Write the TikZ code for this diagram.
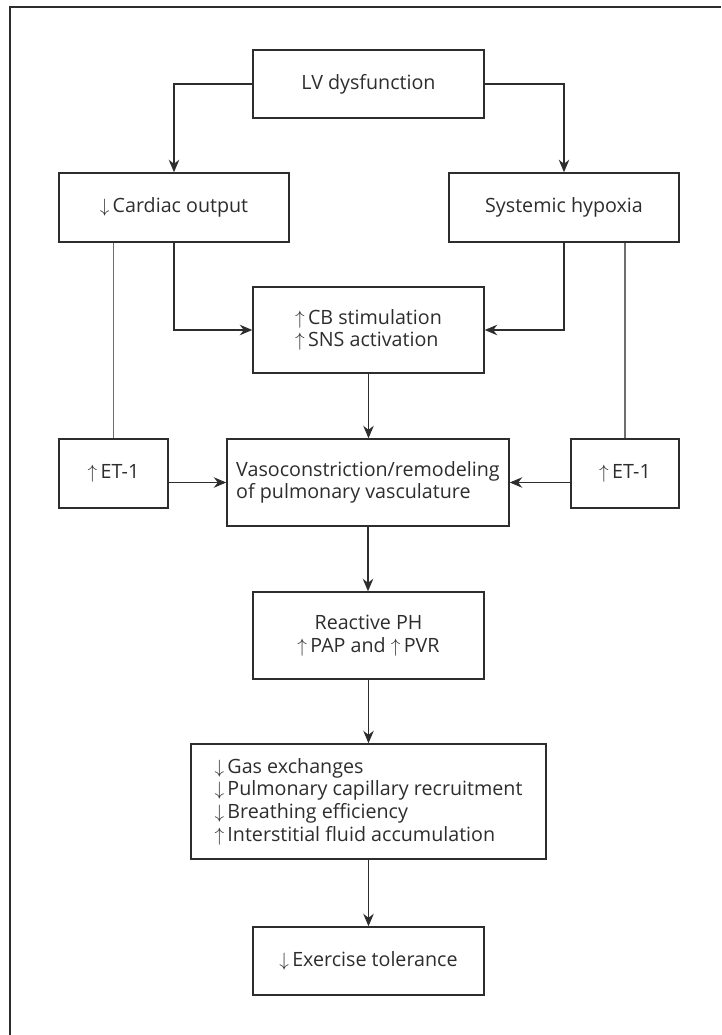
\documentclass[tikz,border=0pt]{standalone}
\usepackage{fontspec}
\setmainfont{Open Sans}
\usepackage{tikz}
\usetikzlibrary{positioning, arrows.meta, calc}
\definecolor{inkgrey}{RGB}{45, 45, 45}
\definecolor{wiregrey}{RGB}{110, 110, 110}
\newcommand{\arUp}{$\uparrow$\,}
\newcommand{\arDn}{$\downarrow$\,}

\begin{document}
\begin{tikzpicture}[>={Stealth[length=2.5mm, width=2.1mm]}, font=\fontsize{11.2}{12.9}\selectfont,
      blk/.style={draw=inkgrey, line width=0.85pt, text=inkgrey, align=center, inner sep=2pt,
        minimum width=4.62cm, minimum height=1.36cm},
      arr/.style={->, inkgrey, line width=0.6pt},
      wire/.style={wiregrey, line width=0.6pt}]
    \useasboundingbox (0,0) rectangle (14.42,-20.70);
    \draw[inkgrey, line width=0.7pt] (0.2,-20.70) -- (0.2,-0.14) -- (14.42,-0.14);
    \node[blk] (lv)  at (7.37,-1.68)  {LV dysfunction};
    \node[blk, minimum width=4.6cm, minimum height=1.38cm] (co) at (3.48,-4.15)  {\arDn Cardiac output};
    \node[blk, minimum width=4.6cm, minimum height=1.38cm] (hy) at (11.28,-4.15) {Systemic hypoxia};
    \node[blk, align=left, minimum height=1.72cm] (cb) at (7.37,-6.6) {\arUp CB stimulation\\ \arUp SNS activation};
    \node[blk, align=left, minimum width=5.64cm, minimum height=1.74cm] (vc) at (7.36,-9.65)
      {Vasoconstriction/remodeling\\ of pulmonary vasculature};
    \node[blk, minimum width=2.18cm, minimum height=1.38cm] (etl) at (2.27,-9.47) {\arUp ET-1};
    \node[blk, minimum width=2.16cm, minimum height=1.38cm] (etr) at (12.5,-9.47) {\arUp ET-1};
    \node[blk, minimum height=1.74cm] (ph) at (7.37,-12.71) {Reactive PH\\ \arUp PAP and \arUp PVR};
    \node[blk, align=left, minimum width=7.1cm, minimum height=2.3cm] (gx) at (7.37,-16.03)
      {\arDn Gas exchanges\\ \arDn Pulmonary capillary recruitment\\ \arDn Breathing efficiency\\ \arUp Interstitial fluid accumulation};
    \node[blk] (ex) at (7.37,-19.22) {\arDn Exercise tolerance};
    % LV dysfunction splits in two
    \draw[arr] (lv.west) -| (co.north);
    \draw[arr] (lv.east) -| (hy.north);
    \draw[arr] (co.south) |- (cb.west);
    \draw[arr] (hy.south) |- (cb.east);
    \draw[wire] (etl.north |- co.south) -- (etl.north);
    \draw[wire] (etr.north |- hy.south) -- (etr.north);
    \draw[arr] (etl.east |- vc.west) -- (vc.west);
    \draw[arr] (etr.west |- vc.east) -- (vc.east);
    \foreach \a/\b in {cb/vc, vc/ph, ph/gx, gx/ex} \draw[arr] (\a.south) -- (\a.south |- \b.north);
  \end{tikzpicture}
\end{document}
